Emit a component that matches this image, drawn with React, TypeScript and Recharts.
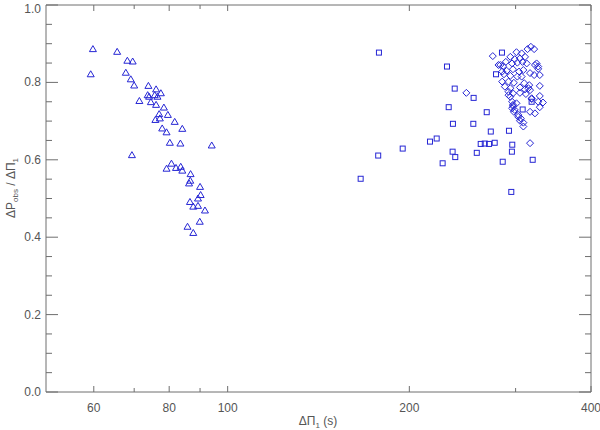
import React from "react"
import { ScatterChart, Scatter, XAxis, YAxis } from "recharts"

// triangles: period spacing of the first group
const triPeriod = [
  59.8, 59.3, 65.6, 68.2, 69.6, 67.8, 69.1, 70.0, 69.4, 71.4, 73.9, 73.7, 74.1, 74.6, 76.1, 75.7, 76.5,
  77.5, 76.1, 78.4, 77.0, 79.6, 77.2, 75.9, 81.7, 77.9, 79.2, 84.1, 80.2, 83.5, 94.1, 80.7, 79.2, 82.1,
  83.6, 84.1, 86.8, 86.7, 86.3, 90.0, 90.2, 89.3, 86.6, 89.3, 87.7, 91.7, 89.9, 85.8, 87.7,
]
const triRatio = [
  0.886, 0.821, 0.879, 0.856, 0.854, 0.825, 0.808, 0.792, 0.612, 0.752, 0.791, 0.767, 0.763, 0.749,
  0.782, 0.767, 0.763, 0.772, 0.742, 0.735, 0.718, 0.716, 0.707, 0.703, 0.698, 0.681, 0.671, 0.68,
  0.644, 0.642, 0.637, 0.59, 0.577, 0.579, 0.582, 0.572, 0.563, 0.546, 0.539, 0.53, 0.509, 0.5, 0.491,
  0.481, 0.479, 0.469, 0.44, 0.427, 0.411,
]

// squares
const sqPeriod = [
  178.1, 230.9, 278.4, 284.8, 237.8, 255.6, 232.4, 268.7, 236.2, 255.3, 272.9, 292.5, 222.0, 216.4,
  195.0, 177.6, 166.1, 262.6, 266.7, 271.1, 277.0, 296.2, 235.9, 238.3, 258.7, 295.8, 227.1, 285.6,
  320.2, 295.1, 308.2, 318.9,
]
const sqRatio = [
  0.877, 0.841, 0.821, 0.877, 0.784, 0.76, 0.736, 0.723, 0.693, 0.693, 0.673, 0.675, 0.655, 0.647,
  0.629, 0.611, 0.551, 0.641, 0.642, 0.641, 0.644, 0.639, 0.621, 0.607, 0.618, 0.621, 0.591, 0.595,
  0.6, 0.517, 0.73, 0.75,
]

// diamonds
const diaPeriod = [
  275, 318, 322, 314, 301, 307, 294, 299, 305, 311, 289, 283, 286, 296, 302, 308, 313, 325, 327, 323,
  290, 297, 304, 309, 317, 322, 329, 287, 294, 302, 307, 285, 292, 298, 310, 316, 329, 288, 294, 305,
  311, 317, 292, 297, 305, 312, 329, 294, 319, 296, 301, 333, 297, 329, 298, 317, 303, 323, 306, 309,
  309, 248.6, 317, 305, 281, 285, 327, 292, 297, 296, 299, 303, 327, 315, 319,
]
const diaRatio = [
  0.868, 0.892, 0.886, 0.886, 0.878, 0.875, 0.866, 0.86, 0.862, 0.866, 0.853, 0.845, 0.842, 0.849,
  0.851, 0.853, 0.849, 0.849, 0.841, 0.845, 0.83, 0.834, 0.828, 0.832, 0.824, 0.819, 0.819, 0.821,
  0.817, 0.815, 0.815, 0.802, 0.802, 0.799, 0.798, 0.793, 0.791, 0.789, 0.785, 0.787, 0.782, 0.78,
  0.776, 0.772, 0.773, 0.77, 0.765, 0.763, 0.759, 0.75, 0.746, 0.748, 0.739, 0.736, 0.724, 0.724,
  0.716, 0.72, 0.707, 0.696, 0.686, 0.773, 0.643, 0.701, 0.845, 0.828, 0.835, 0.767, 0.742, 0.733,
  0.729, 0.711, 0.75, 0.785, 0.757,
]

const xTicks = [60, 70, 80, 90, 100, 200, 300, 400]
const xLabels = [60, 80, 100, 200, 400]
const yTicks = [
  0, 0.05, 0.1, 0.15, 0.2, 0.25, 0.3, 0.35, 0.4, 0.45, 0.5, 0.55, 0.6, 0.65, 0.7, 0.75, 0.8, 0.85,
  0.9, 0.95, 1.0,
]

const toPoints = (xs: number[], ys: number[]) => xs.map((x, i) => ({ x, y: ys[i] }))
const triangles = toPoints(triPeriod, triRatio)
const squares = toPoints(sqPeriod, sqRatio)
const diamonds = toPoints(diaPeriod, diaRatio)

const BLUE = "#2626d4"
const AXIS = "#6e6e6e"
const TEXT = "#555"
const FONT = "'Liberation Sans', Arial, sans-serif"

const isMajorY = (v: number) => Math.round(v * 100) % 20 === 0

const Triangle = (p: any) => (
  <path
    d={`M${p.cx},${p.cy - 3.5}L${p.cx + 3.5},${p.cy + 2.5}L${p.cx - 3.5},${p.cy + 2.5}Z`}
    fill="none"
    stroke={BLUE}
    strokeWidth={1}
  />
)
const Square = (p: any) => (
  <rect x={p.cx - 2.5} y={p.cy - 2.5} width={5} height={5} fill="none" stroke={BLUE} strokeWidth={1} />
)
const Diamond = (p: any) => (
  <path
    d={`M${p.cx},${p.cy - 3.5}L${p.cx + 3.5},${p.cy}L${p.cx},${p.cy + 3.5}L${p.cx - 3.5},${p.cy}Z`}
    fill="none"
    stroke={BLUE}
    strokeWidth={1}
  />
)
const Nothing = () => <g />

// ticks point into the plot, IDL style
const BottomTick = (p: any) => {
  const v = p.payload.value
  const major = xLabels.includes(v)
  return (
    <g>
      <line x1={p.x} x2={p.x} y1={p.y} y2={p.y - (major ? 6 : 4)} stroke={AXIS} />
      {major && (
        <text x={p.x} y={p.y + 20} textAnchor="middle" fontSize={12} fontFamily={FONT} fill={TEXT}>
          {v}
        </text>
      )}
    </g>
  )
}
const TopTick = (p: any) => {
  const major = xLabels.includes(p.payload.value)
  return <line x1={p.x} x2={p.x} y1={p.y} y2={p.y + (major ? 6 : 4)} stroke={AXIS} />
}
const LeftTick = (p: any) => {
  const v = p.payload.value
  const major = isMajorY(v)
  return (
    <g>
      <line x1={p.x} x2={p.x + (major ? 12 : 6)} y1={p.y} y2={p.y} stroke={AXIS} />
      {major && (
        <text
          x={p.x - 5}
          y={Math.max(p.y + 4, 12.5)}
          textAnchor="end"
          fontSize={12}
          fontFamily={FONT}
          fill={TEXT}
        >
          {v.toFixed(1)}
        </text>
      )}
    </g>
  )
}
const RightTick = (p: any) => {
  const major = isMajorY(p.payload.value)
  return <line x1={p.x} x2={p.x - (major ? 12 : 6)} y1={p.y} y2={p.y} stroke={AXIS} />
}

export default function App() {
  return (
    <div style={{ position: "absolute", left: 0, top: 0, width: 600, height: 430, background: "#fff" }}>
      <ScatterChart width={600} height={430} margin={{ top: 4, right: 8, bottom: 0, left: 0 }}>
        <XAxis
          xAxisId="b"
          dataKey="x"
          type="number"
          scale="log"
          domain={[50, 400]}
          ticks={xTicks}
          interval={0}
          height={38}
          tickSize={0}
          tickMargin={0}
          stroke={AXIS}
          tick={BottomTick}
          allowDataOverflow
        />
        <XAxis
          xAxisId="t"
          dataKey="x"
          orientation="top"
          type="number"
          scale="log"
          domain={[50, 400]}
          ticks={xTicks}
          interval={0}
          height={1}
          tickSize={0}
          tickMargin={0}
          stroke={AXIS}
          tick={TopTick}
          allowDataOverflow
        />
        <YAxis
          yAxisId="l"
          dataKey="y"
          type="number"
          domain={[0, 1]}
          ticks={yTicks}
          interval={0}
          width={46}
          tickSize={0}
          tickMargin={0}
          stroke={AXIS}
          tick={LeftTick}
        />
        <YAxis
          yAxisId="r"
          dataKey="y"
          orientation="right"
          type="number"
          domain={[0, 1]}
          ticks={yTicks}
          interval={0}
          width={1}
          tickSize={0}
          tickMargin={0}
          stroke={AXIS}
          tick={RightTick}
        />
        <Scatter xAxisId="b" yAxisId="l" data={triangles} shape={Triangle} isAnimationActive={false} />
        <Scatter xAxisId="b" yAxisId="l" data={squares} shape={Square} isAnimationActive={false} />
        <Scatter xAxisId="b" yAxisId="l" data={diamonds} shape={Diamond} isAnimationActive={false} />
        {/* keeps the mirrored top/right axes in use */}
        <Scatter xAxisId="t" yAxisId="r" data={triangles} shape={Nothing} isAnimationActive={false} />
      </ScatterChart>
      <svg
        width={600}
        height={430}
        style={{ position: "absolute", left: 0, top: 0, pointerEvents: "none" }}
      >
        <text x={318} y={425} textAnchor="middle" fontSize={12} fontFamily={FONT} fill={TEXT}>
          ΔΠ
          <tspan fontSize={8} dy={3}>1</tspan>
          <tspan dy={-3}> (s)</tspan>
        </text>
        <text
          transform="translate(15,188) rotate(-90)"
          textAnchor="middle"
          fontSize={12}
          fontFamily={FONT}
          fill={TEXT}
        >
          ΔP
          <tspan fontSize={8} dy={3}>obs</tspan>
          <tspan dy={-3}> / ΔΠ</tspan>
          <tspan fontSize={8} dy={3}>1</tspan>
        </text>
      </svg>
    </div>
  )
}
